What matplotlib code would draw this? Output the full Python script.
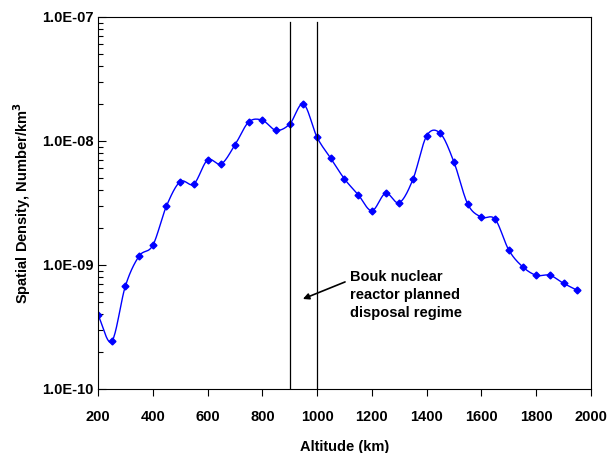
import numpy as np
import matplotlib.pyplot as plt
from matplotlib.ticker import FuncFormatter, LogLocator, NullFormatter

plt.rcParams['font.family'] = ['Liberation Sans', 'DejaVu Sans']
plt.rcParams['font.weight'] = 'bold'

altitude = [200, 250, 300, 350, 400, 450, 500, 550, 600, 650, 700, 750, 800,
            850, 900, 950, 1000, 1050, 1100, 1150, 1200, 1250, 1300, 1350,
            1400, 1450, 1500, 1550, 1600, 1650, 1700, 1750, 1800, 1850, 1900, 1950]
density = [3.95e-10, 2.42e-10, 6.77e-10, 1.18e-9, 1.44e-9, 2.99e-9, 4.7e-9, 4.5e-9,
           7.03e-9, 6.53e-9, 9.29e-9, 1.42e-8, 1.47e-8, 1.22e-8, 1.37e-8, 1.99e-8,
           1.07e-8, 7.24e-9, 4.94e-9, 3.69e-9, 2.74e-9, 3.79e-9, 3.18e-9, 4.91e-9,
           1.10e-8, 1.15e-8, 6.73e-9, 3.10e-9, 2.43e-9, 2.34e-9, 1.32e-9, 9.7e-10,
           8.26e-10, 8.26e-10, 7.11e-10, 6.25e-10]
regime = [900, 1000]
note = "Bouk nuclear\nreactor planned\ndisposal regime"


def smooth(x, y, n=20):
    # Catmull-Rom through the points, like the spreadsheet "smoothed line"
    x = np.asarray(x, float)
    y = np.log10(y)
    px = np.concatenate([[2 * x[0] - x[1]], x, [2 * x[-1] - x[-2]]])
    py = np.concatenate([[2 * y[0] - y[1]], y, [2 * y[-1] - y[-2]]])
    xs, ys = [], []
    t = np.linspace(0, 1, n, endpoint=False)
    for i in range(1, len(px) - 2):
        for p, out in ((px, xs), (py, ys)):
            p0, p1, p2, p3 = p[i - 1], p[i], p[i + 1], p[i + 2]
            out.extend(0.5 * (2 * p1 + (-p0 + p2) * t
                              + (2 * p0 - 5 * p1 + 4 * p2 - p3) * t ** 2
                              + (-p0 + 3 * p1 - 3 * p2 + p3) * t ** 3))
    xs.append(x[-1])
    ys.append(y[-1])
    return np.array(xs), 10 ** np.array(ys)


fig = plt.figure(figsize=(6.08, 4.53), dpi=100)
ax = fig.add_axes([0.1612, 0.1413, 0.8108, 0.8212])

sx, sy = smooth(altitude, density)
ax.plot(sx, sy, color='#0000ff', lw=1)
ax.plot(altitude, density, 'D', color='#0000ff', ms=3.5, mec='#0000ff')

for r in regime:
    ax.plot([r, r], [1e-10, 9.1e-8], color='black', lw=0.9)

ax.text(1120, 5.73e-10, note, fontsize=10.5, fontweight='bold',
        va='center', ha='left', linespacing=1.35)
ax.annotate('', xy=(948, 5.32e-10), xytext=(1102, 7.3e-10),
            arrowprops=dict(arrowstyle='-|>', color='black', lw=1.2,
                            shrinkA=0, shrinkB=0, mutation_scale=9))

ax.set_yscale('log')
ax.set_xlim(200, 2000)
ax.set_ylim(1e-10, 1e-7)
ax.set_xticks(range(200, 2001, 200))
ax.yaxis.set_major_locator(LogLocator(base=10, numticks=5))
ax.yaxis.set_minor_locator(LogLocator(base=10, subs=np.arange(2, 10), numticks=20))
ax.yaxis.set_minor_formatter(NullFormatter())
ax.yaxis.set_major_formatter(FuncFormatter(lambda v, p: "1.0E-%02d" % round(-np.log10(v))))

ax.tick_params(axis='x', direction='out', length=5, width=0.8, labelsize=10.5, pad=10)
ax.tick_params(axis='y', which='major', direction='in', length=6, width=0.8, labelsize=10.5)
ax.tick_params(axis='y', which='minor', direction='in', length=3.5, width=0.8)
for lab in ax.get_xticklabels() + ax.get_yticklabels():
    lab.set_fontweight('bold')

ax.set_xlabel('Altitude (km)', fontsize=10.5, fontweight='bold', labelpad=12)
ax.set_ylabel('Spatial Density, Number/km$^\\mathbf{3}$', fontsize=10.5,
              fontweight='bold', labelpad=6)

fig.savefig('out.png', dpi=100)
